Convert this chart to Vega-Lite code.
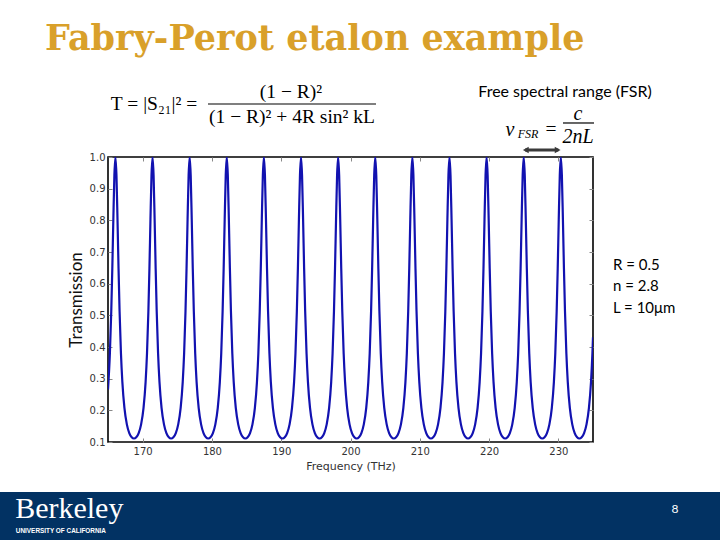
{
  "$schema": "https://vega.github.io/schema/vega-lite/v6.json",
  "autosize": {"type": "none"},
  "width": 485,
  "height": 285,
  "padding": {"left": 108, "top": 157, "right": 127, "bottom": 98},
  "background": "white",
  "config": {"view": {"stroke": "black", "strokeWidth": 1.6}},
  "resolve": {"axis": {"x": "independent", "y": "independent"}},
  "layer": [
    {
      "data": {"values": [{"f1": 149.4, "f2": 253.4, "t1": -0.0579, "t2": -0.2095}]},
      "mark": {"type": "rect", "color": "#023263"},
      "encoding": {
        "x": {"field": "f1", "type": "quantitative", "scale": {"domain": [165, 235], "nice": false, "zero": false}, "axis": null},
        "x2": {"field": "f2"},
        "y": {"field": "t1", "type": "quantitative", "scale": {"domain": [0.1, 1.0], "nice": false, "zero": false}, "axis": null},
        "y2": {"field": "t2"}
      }
    },
    {
      "data": {"values": [
        {"f":165.0,"t":0.2657},{"f":165.271,"t":0.3794},{"f":165.471,"t":0.5128},{"f":165.621,"t":0.6475},{"f":165.771,"t":0.8032},{"f":165.921,"t":0.9419},{"f":166.071,"t":1},{"f":166.221,"t":0.9419},{"f":166.371,"t":0.8032},{"f":166.521,"t":0.6475},{"f":166.671,"t":0.5128},{"f":166.871,"t":0.3794},{"f":167.071,"t":0.2898},{"f":167.371,"t":0.2076},{"f":167.721,"t":0.1556},{"f":168.071,"t":0.1282},{"f":168.421,"t":0.1149},{"f":168.75,"t":0.1111},
        {"f":169.079,"t":0.1149},{"f":169.429,"t":0.1282},{"f":169.779,"t":0.1556},{"f":170.129,"t":0.2076},{"f":170.429,"t":0.2898},{"f":170.629,"t":0.3794},{"f":170.829,"t":0.5128},{"f":170.979,"t":0.6475},{"f":171.129,"t":0.8032},{"f":171.279,"t":0.9419},{"f":171.429,"t":1},{"f":171.579,"t":0.9419},{"f":171.729,"t":0.8032},{"f":171.879,"t":0.6475},{"f":172.029,"t":0.5128},{"f":172.229,"t":0.3794},{"f":172.429,"t":0.2898},{"f":172.729,"t":0.2076},{"f":173.079,"t":0.1556},{"f":173.429,"t":0.1282},{"f":173.779,"t":0.1149},{"f":174.107,"t":0.1111},
        {"f":174.436,"t":0.1149},{"f":174.786,"t":0.1282},{"f":175.136,"t":0.1556},{"f":175.486,"t":0.2076},{"f":175.786,"t":0.2898},{"f":175.986,"t":0.3794},{"f":176.186,"t":0.5128},{"f":176.336,"t":0.6475},{"f":176.486,"t":0.8032},{"f":176.636,"t":0.9419},{"f":176.786,"t":1},{"f":176.936,"t":0.9419},{"f":177.086,"t":0.8032},{"f":177.236,"t":0.6475},{"f":177.386,"t":0.5128},{"f":177.586,"t":0.3794},{"f":177.786,"t":0.2898},{"f":178.086,"t":0.2076},{"f":178.436,"t":0.1556},{"f":178.786,"t":0.1282},{"f":179.136,"t":0.1149},{"f":179.464,"t":0.1111},
        {"f":179.793,"t":0.1149},{"f":180.143,"t":0.1282},{"f":180.493,"t":0.1556},{"f":180.843,"t":0.2076},{"f":181.143,"t":0.2898},{"f":181.343,"t":0.3794},{"f":181.543,"t":0.5128},{"f":181.693,"t":0.6475},{"f":181.843,"t":0.8032},{"f":181.993,"t":0.9419},{"f":182.143,"t":1},{"f":182.293,"t":0.9419},{"f":182.443,"t":0.8032},{"f":182.593,"t":0.6475},{"f":182.743,"t":0.5128},{"f":182.943,"t":0.3794},{"f":183.143,"t":0.2898},{"f":183.443,"t":0.2076},{"f":183.793,"t":0.1556},{"f":184.143,"t":0.1282},{"f":184.493,"t":0.1149},{"f":184.821,"t":0.1111},
        {"f":185.15,"t":0.1149},{"f":185.5,"t":0.1282},{"f":185.85,"t":0.1556},{"f":186.2,"t":0.2076},{"f":186.5,"t":0.2898},{"f":186.7,"t":0.3794},{"f":186.9,"t":0.5128},{"f":187.05,"t":0.6475},{"f":187.2,"t":0.8032},{"f":187.35,"t":0.9419},{"f":187.5,"t":1},{"f":187.65,"t":0.9419},{"f":187.8,"t":0.8032},{"f":187.95,"t":0.6475},{"f":188.1,"t":0.5128},{"f":188.3,"t":0.3794},{"f":188.5,"t":0.2898},{"f":188.8,"t":0.2076},{"f":189.15,"t":0.1556},{"f":189.5,"t":0.1282},{"f":189.85,"t":0.1149},{"f":190.179,"t":0.1111},
        {"f":190.507,"t":0.1149},{"f":190.857,"t":0.1282},{"f":191.207,"t":0.1556},{"f":191.557,"t":0.2076},{"f":191.857,"t":0.2898},{"f":192.057,"t":0.3794},{"f":192.257,"t":0.5128},{"f":192.407,"t":0.6475},{"f":192.557,"t":0.8032},{"f":192.707,"t":0.9419},{"f":192.857,"t":1},{"f":193.007,"t":0.9419},{"f":193.157,"t":0.8032},{"f":193.307,"t":0.6475},{"f":193.457,"t":0.5128},{"f":193.657,"t":0.3794},{"f":193.857,"t":0.2898},{"f":194.157,"t":0.2076},{"f":194.507,"t":0.1556},{"f":194.857,"t":0.1282},{"f":195.207,"t":0.1149},{"f":195.536,"t":0.1111},
        {"f":195.864,"t":0.1149},{"f":196.214,"t":0.1282},{"f":196.564,"t":0.1556},{"f":196.914,"t":0.2076},{"f":197.214,"t":0.2898},{"f":197.414,"t":0.3794},{"f":197.614,"t":0.5128},{"f":197.764,"t":0.6475},{"f":197.914,"t":0.8032},{"f":198.064,"t":0.9419},{"f":198.214,"t":1},{"f":198.364,"t":0.9419},{"f":198.514,"t":0.8032},{"f":198.664,"t":0.6475},{"f":198.814,"t":0.5128},{"f":199.014,"t":0.3794},{"f":199.214,"t":0.2898},{"f":199.514,"t":0.2076},{"f":199.864,"t":0.1556},{"f":200.214,"t":0.1282},{"f":200.564,"t":0.1149},{"f":200.893,"t":0.1111},
        {"f":201.221,"t":0.1149},{"f":201.571,"t":0.1282},{"f":201.921,"t":0.1556},{"f":202.271,"t":0.2076},{"f":202.571,"t":0.2898},{"f":202.771,"t":0.3794},{"f":202.971,"t":0.5128},{"f":203.121,"t":0.6475},{"f":203.271,"t":0.8032},{"f":203.421,"t":0.9419},{"f":203.571,"t":1},{"f":203.721,"t":0.9419},{"f":203.871,"t":0.8032},{"f":204.021,"t":0.6475},{"f":204.171,"t":0.5128},{"f":204.371,"t":0.3794},{"f":204.571,"t":0.2898},{"f":204.871,"t":0.2076},{"f":205.221,"t":0.1556},{"f":205.571,"t":0.1282},{"f":205.921,"t":0.1149},{"f":206.25,"t":0.1111},
        {"f":206.579,"t":0.1149},{"f":206.929,"t":0.1282},{"f":207.279,"t":0.1556},{"f":207.629,"t":0.2076},{"f":207.929,"t":0.2898},{"f":208.129,"t":0.3794},{"f":208.329,"t":0.5128},{"f":208.479,"t":0.6475},{"f":208.629,"t":0.8032},{"f":208.779,"t":0.9419},{"f":208.929,"t":1},{"f":209.079,"t":0.9419},{"f":209.229,"t":0.8032},{"f":209.379,"t":0.6475},{"f":209.529,"t":0.5128},{"f":209.729,"t":0.3794},{"f":209.929,"t":0.2898},{"f":210.229,"t":0.2076},{"f":210.579,"t":0.1556},{"f":210.929,"t":0.1282},{"f":211.279,"t":0.1149},{"f":211.607,"t":0.1111},
        {"f":211.936,"t":0.1149},{"f":212.286,"t":0.1282},{"f":212.636,"t":0.1556},{"f":212.986,"t":0.2076},{"f":213.286,"t":0.2898},{"f":213.486,"t":0.3794},{"f":213.686,"t":0.5128},{"f":213.836,"t":0.6475},{"f":213.986,"t":0.8032},{"f":214.136,"t":0.9419},{"f":214.286,"t":1},{"f":214.436,"t":0.9419},{"f":214.586,"t":0.8032},{"f":214.736,"t":0.6475},{"f":214.886,"t":0.5128},{"f":215.086,"t":0.3794},{"f":215.286,"t":0.2898},{"f":215.586,"t":0.2076},{"f":215.936,"t":0.1556},{"f":216.286,"t":0.1282},{"f":216.636,"t":0.1149},{"f":216.964,"t":0.1111},
        {"f":217.293,"t":0.1149},{"f":217.643,"t":0.1282},{"f":217.993,"t":0.1556},{"f":218.343,"t":0.2076},{"f":218.643,"t":0.2898},{"f":218.843,"t":0.3794},{"f":219.043,"t":0.5128},{"f":219.193,"t":0.6475},{"f":219.343,"t":0.8032},{"f":219.493,"t":0.9419},{"f":219.643,"t":1},{"f":219.793,"t":0.9419},{"f":219.943,"t":0.8032},{"f":220.093,"t":0.6475},{"f":220.243,"t":0.5128},{"f":220.443,"t":0.3794},{"f":220.643,"t":0.2898},{"f":220.943,"t":0.2076},{"f":221.293,"t":0.1556},{"f":221.643,"t":0.1282},{"f":221.993,"t":0.1149},{"f":222.321,"t":0.1111},
        {"f":222.65,"t":0.1149},{"f":223.0,"t":0.1282},{"f":223.35,"t":0.1556},{"f":223.7,"t":0.2076},{"f":224.0,"t":0.2898},{"f":224.2,"t":0.3794},{"f":224.4,"t":0.5128},{"f":224.55,"t":0.6475},{"f":224.7,"t":0.8032},{"f":224.85,"t":0.9419},{"f":225.0,"t":1},{"f":225.15,"t":0.9419},{"f":225.3,"t":0.8032},{"f":225.45,"t":0.6475},{"f":225.6,"t":0.5128},{"f":225.8,"t":0.3794},{"f":226.0,"t":0.2898},{"f":226.3,"t":0.2076},{"f":226.65,"t":0.1556},{"f":227.0,"t":0.1282},{"f":227.35,"t":0.1149},{"f":227.679,"t":0.1111},
        {"f":228.007,"t":0.1149},{"f":228.357,"t":0.1282},{"f":228.707,"t":0.1556},{"f":229.057,"t":0.2076},{"f":229.357,"t":0.2898},{"f":229.557,"t":0.3794},{"f":229.757,"t":0.5128},{"f":229.907,"t":0.6475},{"f":230.057,"t":0.8032},{"f":230.207,"t":0.9419},{"f":230.357,"t":1},{"f":230.507,"t":0.9419},{"f":230.657,"t":0.8032},{"f":230.807,"t":0.6475},{"f":230.957,"t":0.5128},{"f":231.157,"t":0.3794},{"f":231.357,"t":0.2898},{"f":231.657,"t":0.2076},{"f":232.007,"t":0.1556},{"f":232.357,"t":0.1282},{"f":232.707,"t":0.1149},{"f":233.036,"t":0.1111},
        {"f":233.364,"t":0.1149},{"f":233.714,"t":0.1282},{"f":234.064,"t":0.1556},{"f":234.414,"t":0.2076},{"f":234.714,"t":0.2898},{"f":234.914,"t":0.3794},{"f":235.0,"t":0.4304}
      ]},
      "mark": {"type": "line", "color": "#1212B0", "strokeWidth": 2.2, "interpolate": "monotone", "clip": true},
      "encoding": {
        "x": {"field": "f", "type": "quantitative", "scale": {"domain": [165, 235], "nice": false, "zero": false},
              "axis": {"values": [170, 180, 190, 200, 210, 220, 230], "title": "Frequency (THz)", "grid": false, "domain": false,
                       "tickSize": -4, "tickColor": "#888", "labelPadding": 8, "labelFont": "DejaVu Sans", "labelFontSize": 10, "labelColor": "#333",
                       "titleFont": "DejaVu Sans", "titleFontSize": 11, "titleFontWeight": "normal", "titleColor": "#333", "titlePadding": 4}},
        "y": {"field": "t", "type": "quantitative", "scale": {"domain": [0.1, 1.0], "nice": false, "zero": false},
              "axis": {"values": [0.1, 0.2, 0.3, 0.4, 0.5, 0.6, 0.7, 0.8, 0.9, 1.0], "format": ".1f", "title": "Transmission", "grid": false, "domain": false,
                       "tickSize": -4, "tickColor": "#888", "labelPadding": 7, "labelFont": "DejaVu Sans", "labelFontSize": 10, "labelColor": "#333",
                       "titleFont": "Lato", "titleFontSize": 17, "titleFontWeight": "normal", "titleColor": "#111", "titlePadding": 4}}
      }
    },
    {
      "data": {"values": [{"f": 165, "t": 0.1}]},
      "mark": {"type": "point", "opacity": 0},
      "encoding": {
        "x": {"field": "f", "type": "quantitative", "scale": {"domain": [165, 235], "nice": false, "zero": false},
              "axis": {"orient": "top", "values": [170, 180, 190, 200, 210, 220, 230], "labels": false, "title": null, "grid": false, "domain": false, "tickSize": -4, "tickColor": "#888"}},
        "y": {"field": "t", "type": "quantitative", "scale": {"domain": [0.1, 1.0], "nice": false, "zero": false},
              "axis": {"orient": "right", "values": [0.1, 0.2, 0.3, 0.4, 0.5, 0.6, 0.7, 0.8, 0.9, 1.0], "labels": false, "title": null, "grid": false, "domain": false, "tickSize": -4, "tickColor": "#888"}}
      }
    },
    {
      "data": {"values": [
        {"f1": 179.433, "f2": 203.68, "t": 1.1674},
        {"f1": 230.67, "f2": 235.144, "t": 1.1074}
      ]},
      "mark": {"type": "rule", "color": "black", "strokeWidth": 1.2},
      "encoding": {
        "x": {"field": "f1", "type": "quantitative", "scale": {"domain": [165, 235], "nice": false, "zero": false}, "axis": null},
        "x2": {"field": "f2"},
        "y": {"field": "t", "type": "quantitative", "scale": {"domain": [0.1, 1.0], "nice": false, "zero": false}, "axis": null}
      }
    },
    {
      "data": {"values": [{"f1": 225.2, "f2": 230.0, "t": 1.0221}]},
      "mark": {"type": "rule", "color": "#3a3a3a", "strokeWidth": 3},
      "encoding": {
        "x": {"field": "f1", "type": "quantitative", "scale": {"domain": [165, 235], "nice": false, "zero": false}, "axis": null},
        "x2": {"field": "f2"},
        "y": {"field": "t", "type": "quantitative", "scale": {"domain": [0.1, 1.0], "nice": false, "zero": false}, "axis": null}
      }
    },
    {
      "data": {"values": [{"f": 225.3, "t": 1.0221, "dir": "left"}, {"f": 229.9, "t": 1.0221, "dir": "right"}]},
      "mark": {"type": "point", "filled": true, "color": "#3a3a3a", "opacity": 1, "size": 45},
      "encoding": {
        "x": {"field": "f", "type": "quantitative", "scale": {"domain": [165, 235], "nice": false, "zero": false}, "axis": null},
        "y": {"field": "t", "type": "quantitative", "scale": {"domain": [0.1, 1.0], "nice": false, "zero": false}, "axis": null},
        "shape": {"field": "dir", "type": "nominal", "scale": {"domain": ["left", "right"], "range": ["triangle-left", "triangle-right"]}, "legend": null}
      }
    },
    {
      "data": {"values": [{"f": 155.907, "t": 1.3379, "s": "Fabry-Perot etalon example"}]},
      "mark": {"type": "text", "font": "DejaVu Serif", "fontWeight": "bold", "fontSize": 35, "color": "#D9A02A", "align": "left", "baseline": "alphabetic"},
      "encoding": {
        "x": {"field": "f", "type": "quantitative", "scale": {"domain": [165, 235], "nice": false, "zero": false}, "axis": null},
        "y": {"field": "t", "type": "quantitative", "scale": {"domain": [0.1, 1.0], "nice": false, "zero": false}, "axis": null},
        "text": {"field": "s"}
      }
    },
    {
      "data": {"values": [
        {"f": 171.639, "t": 1.1674, "s": "T = |S₂₁|² ="},
        {"f": 191.412, "t": 1.2053, "s": "(1 − R)²"},
        {"f": 191.556, "t": 1.1263, "s": "(1 − R)² + 4R sin² kL"},
        {"f": 228.936, "t": 1.0884, "s": "="}
      ]},
      "mark": {"type": "text", "font": "Liberation Serif", "fontSize": 19.5, "color": "black", "align": "center", "baseline": "middle"},
      "encoding": {
        "x": {"field": "f", "type": "quantitative", "scale": {"domain": [165, 235], "nice": false, "zero": false}, "axis": null},
        "y": {"field": "t", "type": "quantitative", "scale": {"domain": [0.1, 1.0], "nice": false, "zero": false}, "axis": null},
        "text": {"field": "s"}
      }
    },
    {
      "data": {"values": [
        {"f": 223.018, "t": 1.0853, "s": "ν"},
        {"f": 232.833, "t": 1.1358, "s": "c"},
        {"f": 232.833, "t": 1.0632, "s": "2nL"}
      ]},
      "mark": {"type": "text", "font": "Liberation Serif", "fontStyle": "italic", "fontSize": 20, "color": "black", "align": "center", "baseline": "middle"},
      "encoding": {
        "x": {"field": "f", "type": "quantitative", "scale": {"domain": [165, 235], "nice": false, "zero": false}, "axis": null},
        "y": {"field": "t", "type": "quantitative", "scale": {"domain": [0.1, 1.0], "nice": false, "zero": false}, "axis": null},
        "text": {"field": "s"}
      }
    },
    {
      "data": {"values": [{"f": 225.616, "t": 1.0726, "s": "FSR"}]},
      "mark": {"type": "text", "font": "Liberation Serif", "fontStyle": "italic", "fontSize": 12, "color": "black", "align": "center", "baseline": "middle"},
      "encoding": {
        "x": {"field": "f", "type": "quantitative", "scale": {"domain": [165, 235], "nice": false, "zero": false}, "axis": null},
        "y": {"field": "t", "type": "quantitative", "scale": {"domain": [0.1, 1.0], "nice": false, "zero": false}, "axis": null},
        "text": {"field": "s"}
      }
    },
    {
      "data": {"values": [{"f": 230.958, "t": 1.2053, "s": "Free spectral range (FSR)"}]},
      "mark": {"type": "text", "font": "Lato", "fontSize": 16, "color": "black", "align": "center", "baseline": "middle"},
      "encoding": {
        "x": {"field": "f", "type": "quantitative", "scale": {"domain": [165, 235], "nice": false, "zero": false}, "axis": null},
        "y": {"field": "t", "type": "quantitative", "scale": {"domain": [0.1, 1.0], "nice": false, "zero": false}, "axis": null},
        "text": {"field": "s"}
      }
    },
    {
      "data": {"values": [
        {"f": 237.886, "t": 0.659, "s": "R = 0.5"},
        {"f": 237.886, "t": 0.5926, "s": "n = 2.8"},
        {"f": 237.886, "t": 0.5241, "s": "L = 10μm"}
      ]},
      "mark": {"type": "text", "font": "Lato", "fontSize": 15, "color": "black", "align": "left", "baseline": "middle"},
      "encoding": {
        "x": {"field": "f", "type": "quantitative", "scale": {"domain": [165, 235], "nice": false, "zero": false}, "axis": null},
        "y": {"field": "t", "type": "quantitative", "scale": {"domain": [0.1, 1.0], "nice": false, "zero": false}, "axis": null},
        "text": {"field": "s"}
      }
    },
    {
      "data": {"values": [{"f": 151.6, "t": -0.14, "s": "Berkeley"}]},
      "mark": {"type": "text", "font": "Liberation Serif", "fontSize": 30, "color": "white", "align": "left", "baseline": "alphabetic"},
      "encoding": {
        "x": {"field": "f", "type": "quantitative", "scale": {"domain": [165, 235], "nice": false, "zero": false}, "axis": null},
        "y": {"field": "t", "type": "quantitative", "scale": {"domain": [0.1, 1.0], "nice": false, "zero": false}, "axis": null},
        "text": {"field": "s"}
      }
    },
    {
      "data": {"values": [{"f": 151.7, "t": -0.1795, "s": "UNIVERSITY OF CALIFORNIA"}]},
      "mark": {"type": "text", "font": "Liberation Sans", "fontWeight": "bold", "fontSize": 6.4, "color": "white", "align": "left", "baseline": "middle"},
      "encoding": {
        "x": {"field": "f", "type": "quantitative", "scale": {"domain": [165, 235], "nice": false, "zero": false}, "axis": null},
        "y": {"field": "t", "type": "quantitative", "scale": {"domain": [0.1, 1.0], "nice": false, "zero": false}, "axis": null},
        "text": {"field": "s"}
      }
    },
    {
      "data": {"values": [{"f": 246.83, "t": -0.1106, "s": "8"}]},
      "mark": {"type": "text", "font": "Lato", "fontSize": 12, "color": "white", "align": "center", "baseline": "middle"},
      "encoding": {
        "x": {"field": "f", "type": "quantitative", "scale": {"domain": [165, 235], "nice": false, "zero": false}, "axis": null},
        "y": {"field": "t", "type": "quantitative", "scale": {"domain": [0.1, 1.0], "nice": false, "zero": false}, "axis": null},
        "text": {"field": "s"}
      }
    }
  ]
}
